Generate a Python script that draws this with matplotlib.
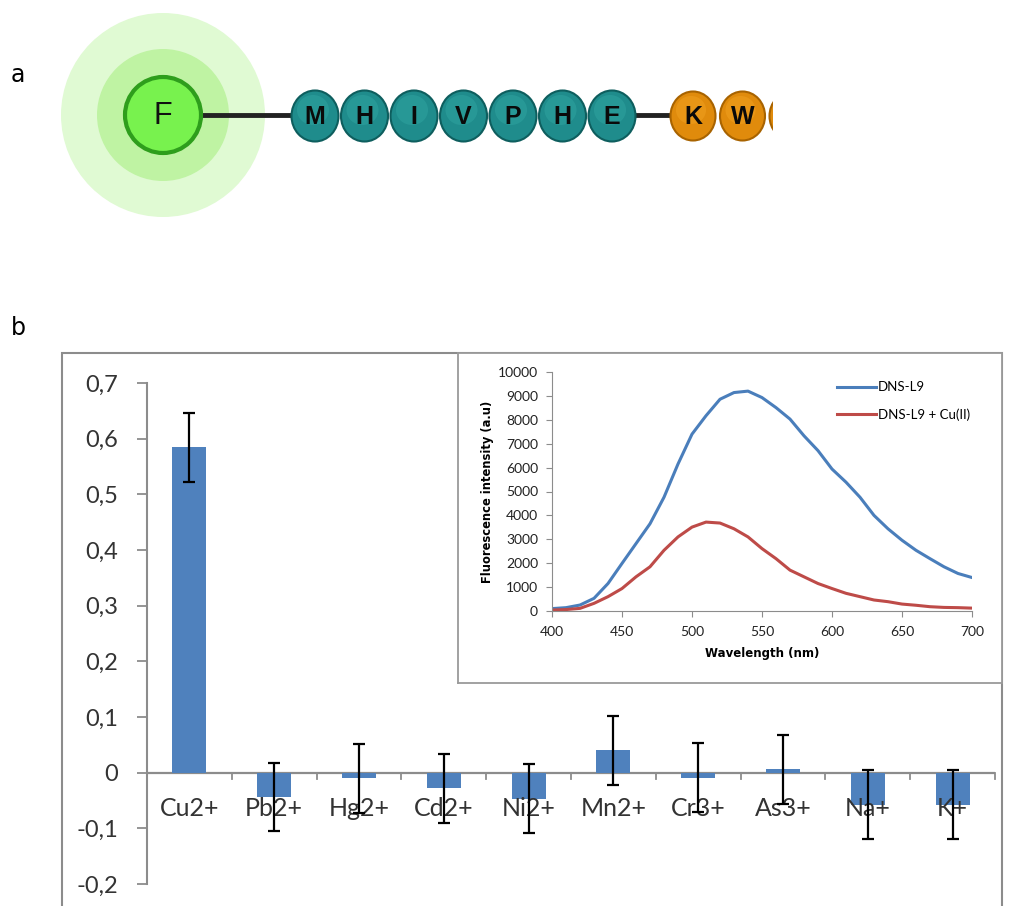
import matplotlib
matplotlib.use("Agg")
import matplotlib.pyplot as plt
from matplotlib.patches import Circle, Rectangle, Ellipse

# ---------------- data ----------------
ions = ["Cu2+", "Pb2+", "Hg2+", "Cd2+", "Ni2+", "Mn2+", "Cr3+", "As3+", "Na+", "K+"]
response = [0.585, -0.043, -0.010, -0.028, -0.047, 0.040, -0.009, 0.006, -0.058, -0.058]
response_err = [0.062, 0.061, 0.062, 0.062, 0.062, 0.062, 0.062, 0.062, 0.062, 0.062]
y_ticks = [-0.2, -0.1, 0.0, 0.1, 0.2, 0.3, 0.4, 0.5, 0.6, 0.7]
y_tick_labels = ["-0,2", "-0,1", "0", "0,1", "0,2", "0,3", "0,4", "0,5", "0,6", "0,7"]

wavelength = [400, 410, 420, 430, 440, 450, 460, 470, 480, 490, 500, 510, 520, 530, 540,
              550, 560, 570, 580, 590, 600, 610, 620, 630, 640, 650, 660, 670, 680, 690, 700]
dns_l9 = [100, 140, 250, 530, 1150, 1990, 2820, 3650, 4760, 6150, 7400, 8170, 8860, 9140, 9200,
          8930, 8510, 8030, 7330, 6710, 5940, 5390, 4760, 4000, 3440, 2960, 2540, 2190, 1850, 1570, 1400]
dns_l9_cu = [40, 60, 110, 320, 600, 940, 1430, 1850, 2540, 3100, 3510, 3720, 3680, 3440, 3100,
             2610, 2190, 1710, 1430, 1150, 940, 740, 600, 460, 390, 290, 240, 180, 150, 140, 120]

peptide_teal = ["M", "H", "I", "V", "P", "H", "E"]
peptide_orange = ["K", "W"]

CAL = ["Lato", "Open Sans", "DejaVu Sans"]
ARIAL = ["Liberation Sans", "DejaVu Sans"]

W, H = 1010, 906
fig = plt.figure(figsize=(W / 100, H / 100), dpi=100)

# ---------------- background / panel a ----------------
bg = fig.add_axes([0, 0, 1, 1], zorder=0)
bg.set_xlim(0, W)
bg.set_ylim(H, 0)
bg.axis("off")

bg.text(18, 75, "a", fontsize=17, ha="center", va="center", family="DejaVu Sans")
bg.text(18, 328, "b", fontsize=17, ha="center", va="center", family="DejaVu Sans")

cx, cy = 163, 115
bg.add_patch(Circle((cx, cy), 102, facecolor="#e0fad3", edgecolor="none"))
bg.add_patch(Circle((cx, cy), 66, facecolor="#bff3a3", edgecolor="none"))
bg.plot([200, 300], [cy, cy], color="#222222", lw=3.5, solid_capstyle="butt", zorder=2)
bg.plot([630, 675], [cy, cy], color="#222222", lw=3.5, solid_capstyle="butt", zorder=2)
bg.add_patch(Circle((cx, cy), 38, facecolor="#78f24e", edgecolor="#2e9e1c", lw=3, zorder=3))
bg.text(cx, cy + 1, "F", fontsize=22, ha="center", va="center", color="#111111",
        family=ARIAL, zorder=4)

by = 116
for i, aa in enumerate(peptide_teal):
    x = 315 + 49.5 * i
    bg.add_patch(Ellipse((x, by), 47, 51, facecolor="#1f8c8c", edgecolor="#0e5e5e", lw=1.5, zorder=3))
    bg.add_patch(Ellipse((x - 2, by - 6), 32, 30, facecolor="#2fa3a0", edgecolor="none", zorder=3, alpha=0.55))
    bg.text(x, by + 1, aa, fontsize=18, fontweight="bold", ha="center", va="center",
            color="#0a0a0a", family=ARIAL, zorder=4)

for i, aa in enumerate(peptide_orange):
    x = 693 + 49.5 * i
    bg.add_patch(Ellipse((x, by), 45, 49, facecolor="#e08b0c", edgecolor="#a86300", lw=1.5, zorder=3))
    bg.add_patch(Ellipse((x - 2, by - 6), 30, 28, facecolor="#f0a020", edgecolor="none", zorder=3, alpha=0.55))
    bg.text(x, by + 1, aa, fontsize=18, fontweight="bold", ha="center", va="center",
            color="#0a0a0a", family=ARIAL, zorder=4)
part = Ellipse((792, by), 45, 49, facecolor="#e08b0c", edgecolor="#a86300", lw=1.5, zorder=3)
bg.add_patch(part)
clip = Rectangle((760, 0), 13, 300, transform=bg.transData)
part.set_clip_path(clip)

# outer frame of panel b
bg.add_patch(Rectangle((62, 353), 940, 600, facecolor="white", edgecolor="#8c8c8c", lw=1.5, zorder=1))

# ---------------- bar chart ----------------
ax = fig.add_axes([147 / W, 1 - 884 / H, 848 / W, (884 - 383) / H], zorder=1)
ax.patch.set_alpha(0)
x = list(range(len(ions)))
ax.bar(x, response, width=0.4, color="#4f81bd", zorder=2)
ax.errorbar(x, response, yerr=response_err, fmt="none", ecolor="black", elinewidth=1.6,
            capsize=4.5, capthick=1.6, zorder=4)
ax.set_xlim(-0.5, len(ions) - 0.5)
ax.set_ylim(-0.2, 0.7)
ax.set_yticks(y_ticks)
ax.set_yticklabels(y_tick_labels, fontsize=17, color="#333333", family=CAL)
ax.tick_params(axis="y", direction="out", length=7, width=1.3, color="#8c8c8c", pad=14)
for s in ["top", "right", "bottom"]:
    ax.spines[s].set_visible(False)
ax.spines["left"].set_color("#8c8c8c")
ax.spines["left"].set_linewidth(1.5)
ax.axhline(0, color="#8c8c8c", lw=1.6, zorder=1)
ax.set_xticks([])
for b in range(1, len(ions) + 1):
    ax.plot([b - 0.5, b - 0.5], [0, -0.011], color="#8c8c8c", lw=1.3, clip_on=False, zorder=1)
for i, lab in enumerate(ions):
    ax.text(i, -0.0645, lab, ha="center", va="center", fontsize=18, color="#333333",
            family=CAL, zorder=3)

# ---------------- inset ----------------
frame = fig.add_axes([458 / W, 1 - 683 / H, (1002 - 458) / W, (683 - 353) / H], zorder=2)
frame.set_xticks([])
frame.set_yticks([])
for s in frame.spines.values():
    s.set_color("#9a9a9a")
    s.set_linewidth(1.3)

ins = fig.add_axes([552 / W, 1 - 611 / H, 420 / W, (611 - 372) / H], zorder=3)
ins.patch.set_alpha(0)
ins.plot(wavelength, dns_l9, color="#4a7ebb", lw=2.2, label="DNS-L9")
ins.plot(wavelength, dns_l9_cu, color="#be4b48", lw=2.2, label="DNS-L9 + Cu(II)")
ins.set_xlim(400, 700)
ins.set_ylim(0, 10000)
ins.set_xticks(range(400, 701, 50))
ins.set_yticks(range(0, 10001, 1000))
ins.tick_params(labelsize=10, length=4, color="#8c8c8c", labelcolor="#222222")
ins.tick_params(axis="x", pad=7)
ins.tick_params(axis="y", pad=6)
for lab in ins.get_xticklabels() + ins.get_yticklabels():
    lab.set_family(CAL)
for s in ["top", "right"]:
    ins.spines[s].set_visible(False)
for s in ["left", "bottom"]:
    ins.spines[s].set_color("#8c8c8c")
ins.set_xlabel("Wavelength (nm)", fontsize=8.5, fontweight="bold", labelpad=6)
ins.set_ylabel("Fluorescence intensity (a.u)", fontsize=8.3, fontweight="bold", labelpad=3)
leg = ins.legend(loc="upper left", bbox_to_anchor=(0.65, 1.01), frameon=False,
                 prop={"family": CAL, "size": 9.5},
                 handlelength=3.0, handletextpad=0.1, labelspacing=1.1)

fig.savefig("out.png", dpi=100)
